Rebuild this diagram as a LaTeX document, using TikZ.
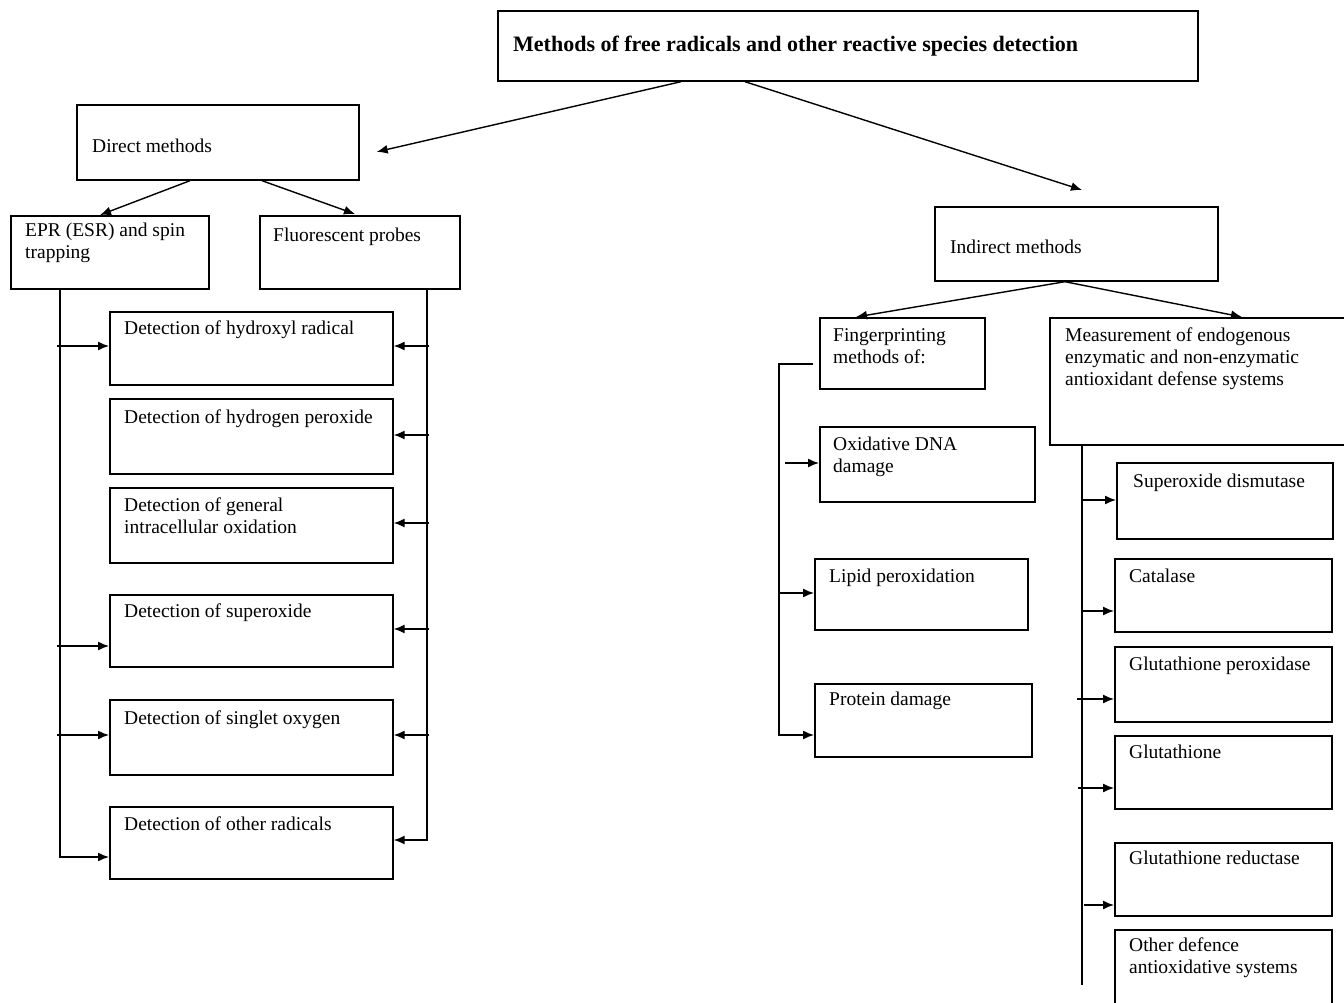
\documentclass[tikz,border=0pt]{standalone}
\usepackage{fontspec}
\setmainfont{Liberation Serif}
\usetikzlibrary{calc,arrows.meta}
\tikzset{
  box/.style={draw, line width=1.7pt, anchor=north west, inner sep=0pt},
  txt/.style={anchor=north west, inner sep=0pt, align=left, font=\fontsize{19.5}{22}\selectfont},
  conn/.style={line width=1.4pt},
  arr/.style={conn, -{Latex[length=11pt,width=9pt]}},
}
\newcommand\bx[5]{\node[box, minimum width=#4pt, minimum height=#5pt] (#1) at (#2,#3) {};}
\begin{document}
\begin{tikzpicture}[x=1pt,y=-1pt]
\useasboundingbox (0,0) rectangle (1344,1003);
% boxes
\bx{top}{497}{10}{700}{70}
\bx{direct}{76}{104}{282}{75}
\bx{epr}{10}{215}{198}{73}
\bx{fluo}{259}{215}{200}{73}
\bx{d1}{109}{311}{283}{73}
\bx{d2}{109}{398}{283}{75}
\bx{d3}{109}{487}{283}{75}
\bx{d4}{109}{594}{283}{72}
\bx{d5}{109}{699}{283}{75}
\bx{d6}{109}{806}{283}{72}
\bx{indirect}{934}{206}{283}{74}
\bx{finger}{819}{317}{165}{71}
\bx{meas}{1049}{317}{300}{127}
\bx{dna}{819}{426}{215}{75}
\bx{lipid}{814}{558}{213}{71}
\bx{protein}{814}{683}{217}{73}
\bx{sod}{1116}{462}{216}{76}
\bx{cat}{1114}{558}{217}{73}
\bx{gpx}{1114}{646}{217}{75}
\bx{glu}{1114}{735}{217}{73}
\bx{gr}{1114}{842}{217}{73}
\bx{other}{1114}{929}{217}{80}
% texts
\node[txt, font=\fontsize{22}{24}\selectfont\bfseries] (top-t) at (513,36) {Methods of free radicals and other reactive species detection};
\node[txt] (direct-t) at (92,139) {Direct methods};
\node[txt] (epr-t) at (25,223) {EPR (ESR) and spin\\trapping};
\node[txt] (fluo-t) at (273,228) {Fluorescent probes};
\node[txt] (d1-t) at (124,321) {Detection of hydroxyl radical};
\node[txt] (d2-t) at (124,410) {Detection of hydrogen peroxide};
\node[txt] (d3-t) at (124,498) {Detection of general\\intracellular oxidation};
\node[txt] (d4-t) at (124,604) {Detection of superoxide};
\node[txt] (d5-t) at (124,711) {Detection of singlet oxygen};
\node[txt] (d6-t) at (124,817) {Detection of other radicals};
\node[txt] (indirect-t) at (950,240) {Indirect methods};
\node[txt] (finger-t) at (833,328) {Fingerprinting\\methods of:};
\node[txt] (meas-t) at (1065,328) {Measurement of endogenous\\enzymatic and non-enzymatic\\antioxidant defense systems};
\node[txt] (dna-t) at (833,437) {Oxidative DNA\\damage};
\node[txt] (lipid-t) at (829,569) {Lipid peroxidation};
\node[txt] (protein-t) at (829,692) {Protein damage};
\node[txt] (sod-t) at (1133,474) {Superoxide dismutase};
\node[txt] (cat-t) at (1129,569) {Catalase};
\node[txt] (gpx-t) at (1129,657) {Glutathione peroxidase};
\node[txt] (glu-t) at (1129,745) {Glutathione};
\node[txt] (gr-t) at (1129,851) {Glutathione reductase};
\node[txt] (other-t) at (1129,938) {Other defence\\antioxidative systems};
% top-level arrows
\draw[arr] ($(top.south west)+(184,0)$) -- ($(direct.east)+(17,9.5)$);
\draw[arr] ($(top.south west)+(248,0)$) -- ($(indirect.north west)+(148,-16)$);
\draw[arr] ($(direct.south west)+(114,0)$) -- ($(epr.north west)+(90,0)$);
\draw[arr] ($(direct.south west)+(186,0)$) -- ($(fluo.north west)+(96,-1)$);
\draw[arr] ($(indirect.south west)+(131,0)$) -- ($(finger.north west)+(37,0)$);
\draw[arr] ($(indirect.south west)+(131,0)$) -- ($(meas.north west)+(193,0)$);
% EPR branch
\draw[arr] ($(epr.south west)+(50,0)$) |- ($(d6.north west)+(0,51)$);
\draw[arr] ($(d1.north west)+(-52,35)$) -- ($(d1.north west)+(0,35)$);
\draw[arr] ($(d4.north west)+(-52,52)$) -- ($(d4.north west)+(0,52)$);
\draw[arr] ($(d5.north west)+(-52,36)$) -- ($(d5.north west)+(0,36)$);
% Fluorescent branch
\draw[arr] ($(fluo.south west)+(168,0)$) |- ($(d6.north east)+(0,34)$);
\draw[arr] ($(d1.north east)+(35,35)$) -- ($(d1.north east)+(0,35)$);
\draw[arr] ($(d2.north east)+(35,37)$) -- ($(d2.north east)+(0,37)$);
\draw[arr] ($(d3.north east)+(35,36)$) -- ($(d3.north east)+(0,36)$);
\draw[arr] ($(d4.north east)+(35,35)$) -- ($(d4.north east)+(0,35)$);
\draw[arr] ($(d5.north east)+(35,36)$) -- ($(d5.north east)+(0,36)$);
% Fingerprinting branch
\draw[arr] ($(finger.north west)+(-6,47)$) -- ++(-34,0) |- ($(protein.north west)+(0,52)$);
\draw[arr] ($(dna.north west)+(-34,37)$) -- ($(dna.north west)+(0,37)$);
\draw[arr] ($(lipid.north west)+(-35,35)$) -- ($(lipid.north west)+(0,35)$);
% Measurement branch
\draw[conn] ($(meas.south west)+(33,0)$) -- ++(0,539);
\draw[arr] ($(sod.north west)+(-33,38)$) -- ($(sod.north west)+(0,38)$);
\draw[arr] ($(cat.north west)+(-31,53)$) -- ($(cat.north west)+(0,53)$);
\draw[arr] ($(gpx.north west)+(-37,53)$) -- ($(gpx.north west)+(0,53)$);
\draw[arr] ($(glu.north west)+(-36,53)$) -- ($(glu.north west)+(0,53)$);
\draw[arr] ($(gr.north west)+(-30,63)$) -- ($(gr.north west)+(0,63)$);
\end{tikzpicture}
\end{document}
